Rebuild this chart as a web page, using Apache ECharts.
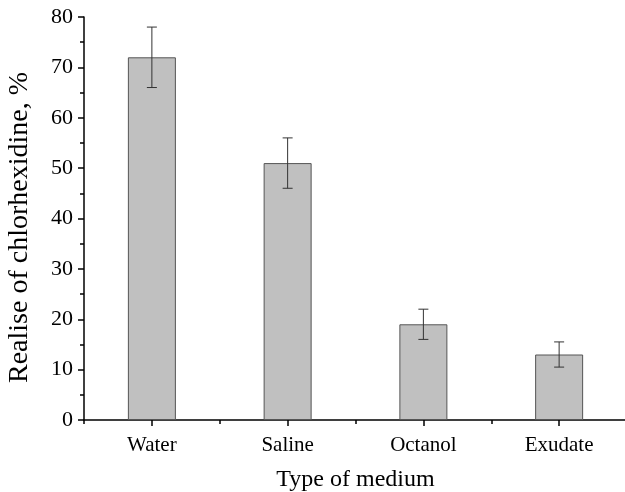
<!DOCTYPE html>
<html>
<head>
<meta charset="utf-8">
<script src="https://cdn.jsdelivr.net/npm/echarts@6/dist/echarts.min.js"></script>
<style>
  html, body { margin: 0; padding: 0; background: #fff; }
  #chart { width: 625px; height: 492px; }
</style>
</head>
<body>
<div id="chart"></div>
<script>
// Release of chlorhexidine in different media (mean ± error)
const categories = ['Water', 'Saline', 'Octanol', 'Exudate'];
const releaseValues = [72, 51, 19, 13];
const errorValues = [6, 5, 3, 2.5];
const yTicks = [0, 10, 20, 30, 40, 50, 60, 70, 80];

const FONT = '"Liberation Serif", "Times New Roman", serif';

const errorData = categories.map((c, i) => [i, releaseValues[i] - errorValues[i], releaseValues[i] + errorValues[i]]);

const chart = echarts.init(document.getElementById('chart'), null, { renderer: 'canvas' });

chart.setOption({
  animation: false,
  backgroundColor: '#ffffff',
  grid: { left: 84, right: -2, top: 17, bottom: 72, containLabel: false, outerBoundsMode: 'none' },
  xAxis: [
    {
      type: 'category',
      data: categories,
      name: 'Type of medium',
      nameLocation: 'middle',
      nameGap: 48,
      nameTextStyle: { fontFamily: FONT, fontSize: 24, color: '#000' },
      axisLine: { show: true, lineStyle: { color: '#000', width: 1.5 } },
      axisTick: { show: true, alignWithLabel: true, length: 6, lineStyle: { color: '#000', width: 1.5 } },
      axisLabel: { fontFamily: FONT, fontSize: 21, color: '#000', margin: 15 },
      splitLine: { show: false }
    },
    {
      // boundary ticks between categories
      type: 'category',
      data: categories,
      position: 'bottom',
      axisLine: { show: false },
      axisTick: { show: true, length: 4, lineStyle: { color: '#000', width: 1.5 } },
      axisLabel: { show: false },
      splitLine: { show: false }
    }
  ],
  yAxis: {
    type: 'value',
    min: yTicks[0],
    max: yTicks[yTicks.length - 1],
    interval: 10,
    name: 'Realise of chlorhexidine, %',
    nameLocation: 'middle',
    nameGap: 50,
    nameTextStyle: { fontFamily: FONT, fontSize: 28, color: '#000', padding: [0, 18, 0, 0] },
    axisLine: { show: true, lineStyle: { color: '#000', width: 1.5 } },
    axisTick: { show: true, length: 6, lineStyle: { color: '#000', width: 1.5 } },
    minorTick: { show: true, splitNumber: 2, length: 4, lineStyle: { color: '#000', width: 1.5 } },
    axisLabel: { fontFamily: FONT, fontSize: 22, color: '#000', margin: 11 },
    splitLine: { show: false }
  },
  series: [
    {
      type: 'bar',
      data: releaseValues,
      barWidth: 48,
      itemStyle: { color: '#c0c0c0', borderColor: '#555555', borderWidth: 1 },
      z: 2
    },
    {
      type: 'custom',
      data: errorData,
      z: 3,
      renderItem: function (params, api) {
        const x = api.value(0);
        const lo = api.coord([x, api.value(1)]);
        const hi = api.coord([x, api.value(2)]);
        const half = 5;
        const style = { stroke: '#333333', lineWidth: 1 };
        return {
          type: 'group',
          children: [
            { type: 'line', shape: { x1: hi[0], y1: hi[1], x2: lo[0], y2: lo[1] }, style: style },
            { type: 'line', shape: { x1: hi[0] - half, y1: hi[1], x2: hi[0] + half, y2: hi[1] }, style: style },
            { type: 'line', shape: { x1: lo[0] - half, y1: lo[1], x2: lo[0] + half, y2: lo[1] }, style: style }
          ]
        };
      }
    }
  ]
});
</script>
</body>
</html>
